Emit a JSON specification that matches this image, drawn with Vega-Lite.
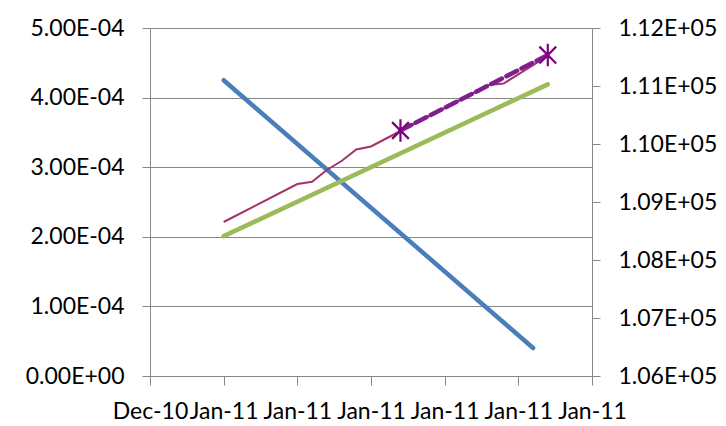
{
  "$schema": "https://vega.github.io/schema/vega-lite/v6.json",
  "autosize": {"type": "none"},
  "padding": {"left": 150, "top": 28, "right": 134, "bottom": 50},
  "width": 442,
  "height": 348,
  "background": "white",
  "config": {
    "view": {"stroke": null},
    "font": "Lato",
    "axis": {
      "labelFont": "Lato",
      "labelFontSize": 23,
      "labelColor": "#000000",
      "domainColor": "#868686",
      "tickColor": "#868686",
      "domainWidth": 1,
      "tickWidth": 1,
      "title": null,
      "labelFlush": false,
      "labelOverlap": false
    }
  },
  "data": {
    "values": [
      {"series": "blue", "date": "2011-01-05", "value": 0.000425},
      {"series": "blue", "date": "2011-01-26", "value": 0.0000402},
      {"series": "green", "date": "2011-01-05", "value": 0.000201},
      {"series": "green", "date": "2011-01-27", "value": 0.000419},
      {"series": "pink", "date": "2011-01-05", "value": 108655},
      {"series": "pink", "date": "2011-01-10", "value": 109310},
      {"series": "pink", "date": "2011-01-11", "value": 109350},
      {"series": "pink", "date": "2011-01-12", "value": 109552},
      {"series": "pink", "date": "2011-01-13", "value": 109707},
      {"series": "pink", "date": "2011-01-14", "value": 109905},
      {"series": "pink", "date": "2011-01-15", "value": 109957},
      {"series": "pink", "date": "2011-01-17", "value": 110224},
      {"series": "pink", "date": "2011-01-23", "value": 111017},
      {"series": "pink", "date": "2011-01-24", "value": 111043},
      {"series": "pink", "date": "2011-01-27", "value": 111517},
      {"series": "purple", "date": "2011-01-17", "value": 110233},
      {"series": "purple", "date": "2011-01-27", "value": 111534}
    ]
  },
  "encoding": {
    "x": {
      "field": "date",
      "type": "temporal",
      "scale": {"type": "utc", "domain": [1293753600000, 1296345600000]},
      "axis": {
        "values": [1293753600000, 1294185600000, 1294617600000, 1295049600000, 1295481600000, 1295913600000, 1296345600000],
        "labelExpr": "utcFormat(datum.value, '%b-%y')",
        "tickSize": 9,
        "labelPadding": 15,
        "grid": false,
        "labelAngle": 0
      }
    }
  },
  "layer": [
    {
      "transform": [{"filter": "datum.series === 'blue'"}],
      "mark": {"type": "line", "color": "#4A7EBB", "strokeWidth": 4.5, "strokeCap": "round"},
      "encoding": {
        "y": {
          "field": "value", "type": "quantitative",
          "scale": {"domain": [0, 0.0005], "nice": false, "zero": false},
          "axis": {
            "orient": "left",
            "values": [0, 0.0001, 0.0002, 0.0003, 0.0004, 0.0005],
            "labelExpr": "replace(replace(format(datum.value, '.2e'), 'e-', 'E-0'), 'e+', 'E+0')",
            "tickSize": 8,
            "labelPadding": 18,
            "grid": true,
            "gridColor": "#868686",
            "gridWidth": 1
          }
        }
      }
    },
    {
      "transform": [{"filter": "datum.series === 'green'"}],
      "mark": {"type": "line", "color": "#9BBB59", "strokeWidth": 4.5, "strokeCap": "round"},
      "encoding": {
        "y": {
          "field": "value", "type": "quantitative",
          "scale": {"domain": [0, 0.0005], "nice": false, "zero": false},
          "axis": null
        }
      }
    },
    {
      "transform": [{"filter": "datum.series === 'pink'"}],
      "mark": {"type": "line", "color": "#A3336A", "strokeWidth": 2},
      "encoding": {
        "y": {
          "field": "value", "type": "quantitative",
          "scale": {"domain": [106000, 112000], "nice": false, "zero": false},
          "axis": {
            "orient": "right",
            "values": [106000, 107000, 108000, 109000, 110000, 111000, 112000],
            "labelExpr": "replace(replace(format(datum.value, '.2e'), 'e-', 'E-0'), 'e+', 'E+0')",
            "tickSize": 8,
            "labelPadding": 18,
            "grid": false
          }
        }
      }
    },
    {
      "transform": [{"filter": "datum.series === 'purple'"}],
      "mark": {"type": "line", "color": "#7F1F8C", "strokeWidth": 4.5, "strokeDash": [12, 5], "strokeCap": "round"},
      "encoding": {
        "y": {
          "field": "value", "type": "quantitative",
          "scale": {"domain": [106000, 112000], "nice": false, "zero": false},
          "axis": null
        }
      }
    },
    {
      "transform": [{"filter": "datum.series === 'purple'"}],
      "mark": {
        "type": "point",
        "shape": "M0,-1L0,1M-0.75,-0.75L0.75,0.75M-0.75,0.75L0.75,-0.75",
        "size": 500,
        "filled": false,
        "stroke": "#800080",
        "strokeWidth": 2.2,
        "opacity": 1
      },
      "encoding": {
        "y": {
          "field": "value", "type": "quantitative",
          "scale": {"domain": [106000, 112000], "nice": false, "zero": false},
          "axis": null
        }
      }
    }
  ],
  "resolve": {"scale": {"y": "independent"}}
}
